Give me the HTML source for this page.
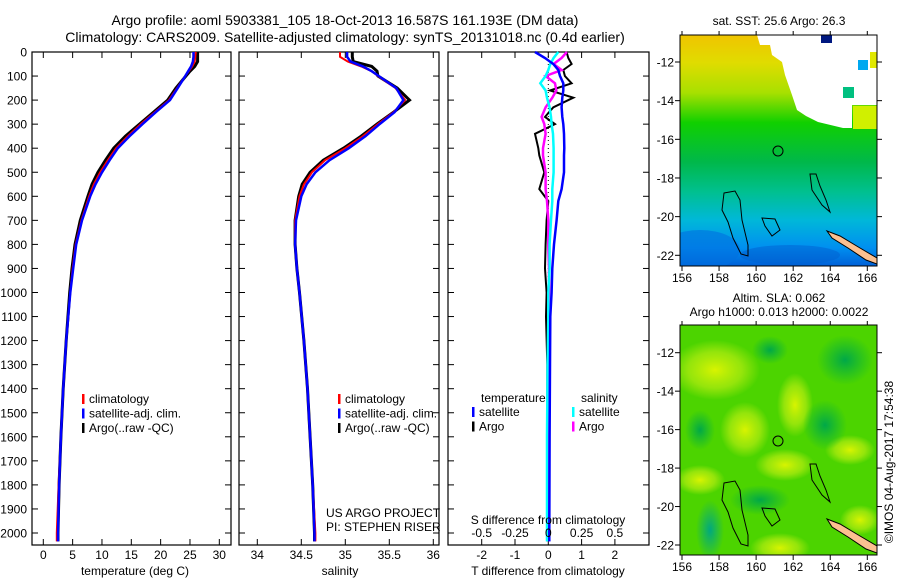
<!DOCTYPE html>
<html><head><meta charset="utf-8">
<style>
html,body{margin:0;padding:0;background:#fff;}
svg{display:block;font-family:"Liberation Sans",sans-serif;}
text{fill:#000;}
</style></head>
<body>
<svg id="fig" width="900" height="580" viewBox="0 0 900 580" xmlns="http://www.w3.org/2000/svg">
<defs>
  <linearGradient id="sstGrad" x1="0" y1="0" x2="0" y2="1">
    <stop offset="0" stop-color="#f0c400"/>
    <stop offset="0.12" stop-color="#e0dc00"/>
    <stop offset="0.25" stop-color="#a8e000"/>
    <stop offset="0.38" stop-color="#10d000"/>
    <stop offset="0.55" stop-color="#00b84a"/>
    <stop offset="0.68" stop-color="#00c090"/>
    <stop offset="0.80" stop-color="#00b8d8"/>
    <stop offset="0.92" stop-color="#0090f0"/>
    <stop offset="1" stop-color="#0060d8"/>
  </linearGradient>
  <radialGradient id="yb"><stop offset="0" stop-color="#d8f400"/><stop offset="0.6" stop-color="#b4ec10" stop-opacity="0.7"/><stop offset="1" stop-color="#b4ec10" stop-opacity="0"/></radialGradient>
  <radialGradient id="gb"><stop offset="0" stop-color="#00a848"/><stop offset="1" stop-color="#00b040" stop-opacity="0"/></radialGradient>
  <radialGradient id="tb"><stop offset="0" stop-color="#00a880"/><stop offset="1" stop-color="#00a880" stop-opacity="0"/></radialGradient>
  <clipPath id="clip1"><rect x="680" y="35" width="197" height="231"/></clipPath>
  <clipPath id="clip2"><rect x="680" y="325" width="197" height="230"/></clipPath>
</defs>

<text x="345" y="25" font-size="14" text-anchor="middle">Argo profile: aoml 5903381_105 18-Oct-2013 16.587S 161.193E (DM data)</text>
<text x="345" y="42" font-size="14" text-anchor="middle">Climatology: CARS2009. Satellite-adjusted climatology: synTS_20131018.nc (0.4d earlier)</text>

<g id="p1"></g>
<g id="p2"></g>
<g id="p3"></g>

<!-- SST map -->
<g>
  <text x="779" y="25" font-size="12" text-anchor="middle">sat. SST: 25.6 Argo: 26.3</text>
  <g clip-path="url(#clip1)">
    <rect x="680" y="35" width="197" height="231" fill="url(#sstGrad)"/>
    <ellipse cx="700" cy="250" rx="40" ry="20" fill="#0070e0" opacity="0.6"/>
    <ellipse cx="790" cy="255" rx="50" ry="10" fill="#0060d0" opacity="0.5"/>
    <polygon points="757,35 877,35 877,105 852,105 852,128 843,128 818,122 806,116 797,110 792,95 785,75 782,62 772,55 770,45 760,45" fill="#fff"/>
    <rect x="853" y="106" width="24" height="23" fill="#d0f000"/>
    <rect x="870" y="52" width="7" height="16" fill="#e0e800"/>
    <rect x="821" y="35" width="11" height="8" fill="#001880"/>
    <rect x="858" y="60" width="10" height="10" fill="#00a8f0"/>
    <rect x="843" y="87" width="11" height="11" fill="#00c080"/>
    <path d="M827,231 L840,236 L860,248 L877,258 L877,264 L866,260 L848,248 L832,238 Z" fill="#fcc090" stroke="#000" stroke-width="1"/>
    <path d="M724,193 L735,191 L740,200 L742,220 L748,245 L748,256 L741,254 L733,238 L728,222 L722,210 Z" fill="none" stroke="#000"/>
    <path d="M810,174 L816,174 L820,186 L826,200 L830,212 L822,205 L812,190 Z" fill="none" stroke="#000"/>
    <path d="M762,218 L775,219 L780,230 L772,236 L765,226 Z" fill="none" stroke="#000"/>
    <circle cx="778" cy="151" r="5" fill="none" stroke="#000"/>
  </g>
  <rect x="680" y="35" width="197" height="231" fill="none" stroke="#000"/>
  <g id="m1ticks"></g>
</g>

<!-- SLA map -->
<g>
  <text x="779" y="302" font-size="12" text-anchor="middle">Altim. SLA: 0.062</text>
  <text x="779" y="316" font-size="12" text-anchor="middle">Argo h1000: 0.013 h2000: 0.0022</text>
  <g clip-path="url(#clip2)">
    <rect x="680" y="325" width="197" height="230" fill="#4cd400"/>
    <ellipse cx="715" cy="370" rx="45" ry="30" fill="url(#yb)"/>
    <ellipse cx="745" cy="430" rx="25" ry="28" fill="url(#yb)"/>
    <ellipse cx="795" cy="405" rx="18" ry="32" fill="url(#yb)"/>
    <ellipse cx="785" cy="465" rx="30" ry="16" fill="url(#yb)"/>
    <ellipse cx="780" cy="548" rx="30" ry="15" fill="url(#yb)"/>
    <ellipse cx="700" cy="480" rx="25" ry="15" fill="url(#yb)"/>
    <ellipse cx="850" cy="450" rx="25" ry="15" fill="url(#yb)"/>
    <ellipse cx="860" cy="520" rx="20" ry="15" fill="url(#yb)"/>
    <ellipse cx="825" cy="425" rx="22" ry="25" fill="url(#gb)"/>
    <ellipse cx="845" cy="360" rx="28" ry="25" fill="url(#gb)"/>
    <ellipse cx="770" cy="350" rx="18" ry="14" fill="url(#gb)"/>
    <ellipse cx="710" cy="530" rx="14" ry="30" fill="url(#tb)"/>
    <ellipse cx="760" cy="500" rx="30" ry="15" fill="url(#gb)"/>
    <ellipse cx="700" cy="430" rx="15" ry="20" fill="url(#gb)"/>
    <path d="M827,519 L840,524 L860,536 L877,546 L877,553 L866,549 L848,537 L832,527 Z" fill="#fcc090" stroke="#000" stroke-width="1"/>
    <path d="M724,483 L735,481 L740,490 L742,510 L748,535 L748,546 L741,544 L733,528 L728,512 L722,500 Z" fill="none" stroke="#000"/>
    <path d="M810,464 L816,464 L820,476 L826,490 L830,502 L822,495 L812,480 Z" fill="none" stroke="#000"/>
    <path d="M762,508 L775,509 L780,520 L772,526 L765,516 Z" fill="none" stroke="#000"/>
    <circle cx="778" cy="441" r="5" fill="none" stroke="#000"/>
  </g>
  <rect x="680" y="325" width="197" height="230" fill="none" stroke="#000"/>
  <g id="m2ticks"></g>
</g>

<text transform="translate(893,462) rotate(-90)" font-size="12" text-anchor="middle">©IMOS 04-Aug-2017 17:54:38</text>

<script>
// ---- data ----
const depths = [0,20,40,60,80,100,150,200,250,300,350,400,450,500,550,600,700,800,900,1000,1200,1400,1600,1800,2000,2035];
const tempClim = [26.0,25.9,25.8,25.4,24.8,24.2,22.8,21.4,19.0,16.6,14.4,12.4,11.0,9.7,8.6,7.8,6.5,5.5,5.0,4.6,3.9,3.4,3.0,2.6,2.3,2.3];
const tempSat  = [25.6,25.6,25.5,25.2,24.7,24.2,22.9,21.6,19.2,16.9,14.7,12.7,11.3,10.0,8.9,8.0,6.6,5.6,5.1,4.6,3.9,3.4,3.0,2.7,2.5,2.5];
const tempArgo = [26.3,26.3,26.3,25.8,25.0,24.3,22.6,21.2,18.8,16.4,14.0,12.0,10.6,9.3,8.3,7.6,6.3,5.4,4.9,4.5,3.9,3.4,3.0,2.7,2.5,2.5];
const salClim  = [34.94,34.94,35.03,35.18,35.30,35.37,35.57,35.68,35.55,35.37,35.20,35.00,34.77,34.62,34.53,34.48,34.43,34.43,34.45,34.48,34.53,34.57,34.60,34.63,34.66,34.66];
const salSat   = [35.02,35.02,35.06,35.20,35.30,35.38,35.58,35.66,35.56,35.39,35.23,35.04,34.82,34.66,34.56,34.50,34.44,34.43,34.45,34.48,34.53,34.57,34.60,34.63,34.65,34.65];
const salArgo  = [35.08,35.08,35.09,35.30,35.36,35.37,35.59,35.73,35.55,35.36,35.18,34.98,34.75,34.60,34.51,34.47,34.43,34.43,34.45,34.48,34.53,34.57,34.60,34.63,34.65,34.65];
const diffDepths = [0,25,50,75,100,130,160,190,230,270,300,340,400,430,500,570,620,700,800,900,1000,1100,1300,1600,2000,2035];
const dTsat  = [-0.4,-0.1,0.15,0.3,0.35,0.45,0.45,0.42,0.4,0.42,0.45,0.47,0.48,0.47,0.47,0.4,0.3,0.25,0.17,0.12,0.1,0.06,0.05,0.04,0.03,0.03];
const dTargo = [0.55,0.6,0.7,0.45,0.5,0.7,0.05,0.75,0.15,-0.1,0.2,-0.4,-0.3,-0.27,-0.12,-0.27,0.0,-0.05,-0.08,-0.1,-0.05,-0.07,-0.03,-0.03,-0.03,-0.03];
const dSsat  = [0.075,0.04,0.015,0.0,-0.02,-0.06,-0.02,-0.01,0.01,0.02,0.025,0.035,0.04,0.04,0.04,0.03,0.03,0.02,0.01,0.01,0.0,0.0,-0.005,-0.01,-0.01,-0.01];
const dSargo = [0.14,0.1,0.04,0.1,-0.02,0.05,0.06,0.03,-0.02,-0.05,-0.03,-0.02,-0.04,-0.04,-0.02,-0.02,-0.01,0.0,0.0,0.005,0.005,0.005,0.005,0.005,0.005,0.005];
const depthTicks = [0,100,200,300,400,500,600,700,800,900,1000,1100,1200,1300,1400,1500,1600,1700,1800,1900,2000];
const tempTicks = [0,5,10,15,20,25,30];
const salTicks = [34,34.5,35,35.5,36];
const dTTicks = [-2,-1,0,1,2];
const dSTickLabels = ["-0.5","-0.25","0","0.25","0.5"];
const lonTicks = [156,158,160,162,164,166];
const latTicks = [-12,-14,-16,-18,-20,-22];

// ---- scales ----
const TOP=52, BOT=545;
const yD = d => TOP + d*0.2405;
const xT = t => 43.3 + t*5.867;
const xS = s => 257.3 + (s-34)*88;
const xDT = v => 548.3 + v*33.3;
const xDS = v => 548.3 + v*133.2;
const NS='http://www.w3.org/2000/svg';
function mk(parent, tag, attrs){const e=document.createElementNS(NS,tag);for(const k in attrs)e.setAttribute(k,attrs[k]);parent.appendChild(e);return e;}
function txt(parent,x,y,s,anchor,size){const e=mk(parent,'text',{x:x,y:y,'font-size':size||12,'text-anchor':anchor||'middle'});e.textContent=s;return e;}
function line(parent, xs, ds, xf, color, w){
  const pts = xs.map((v,i)=>xf(v).toFixed(1)+','+yD(ds[i]).toFixed(1)).join(' ');
  return mk(parent,'polyline',{points:pts,fill:'none',stroke:color,'stroke-width':w,'stroke-linejoin':'miter'});
}
function frame(g,x0,x1,xticks,xf,labels,depthLabels){
  const r=mk(g,'rect',{x:x0,y:TOP,width:x1-x0,height:BOT-TOP,fill:'none',stroke:'#000','stroke-width':1.2});
  
  
  depthTicks.forEach(d=>{
    mk(g,'line',{x1:x0,x2:x0+6,y1:yD(d),y2:yD(d),stroke:'#000'});
    mk(g,'line',{x1:x1-6,x2:x1,y1:yD(d),y2:yD(d),stroke:'#000'});
    if(depthLabels){const t=txt(g,27,yD(d)+4.5,String(d),'end',12);}
  });
  xticks.forEach((v,i)=>{
    mk(g,'line',{x1:xf(v),x2:xf(v),y1:BOT,y2:BOT-6,stroke:'#000'});
    mk(g,'line',{x1:xf(v),x2:xf(v),y1:TOP,y2:TOP+6,stroke:'#000'});
    const t=txt(g,xf(v),559,labels[i],'middle',12);
    
    
  });
}
function legend(g,x,y,items){
  items.forEach((it,i)=>{
    mk(g,'rect',{x:x,y:y+i*14.5-9,width:2.5,height:10,fill:it[0]});
    const t=txt(g,x+7,y+i*14.5,it[1],'start',12);
    
    
  });
}

// panel 1 temperature
const p1=document.getElementById('p1');
frame(p1,32,231,tempTicks,xT,tempTicks.map(String),true);
line(p1,tempArgo,depths,xT,'#000',3);
line(p1,tempClim,depths,xT,'#f00',2);
line(p1,tempSat,depths,xT,'#00f',2.5);
const xl1=txt(p1,135,575,'temperature (deg C)','middle',12);


legend(p1,82,403,[['#f00','climatology'],['#00f','satellite-adj. clim.'],['#000','Argo(..raw -QC)']]);

// panel 2 salinity
const p2=document.getElementById('p2');
frame(p2,239,439,salTicks,xS,['34','34.5','35','35.5','36'],false);
line(p2,salArgo,depths,xS,'#000',3);
line(p2,salClim,depths,xS,'#f00',2);
line(p2,salSat,depths,xS,'#00f',2.5);
const xl2=txt(p2,340,575,'salinity','middle',12);


legend(p2,338,403,[['#f00','climatology'],['#00f','satellite-adj. clim.'],['#000','Argo(..raw -QC)']]);
txt(p2,326,517,'US ARGO PROJECT','start',12);
txt(p2,326,531,'PI: STEPHEN RISER','start',12);

// panel 3 differences
const p3=document.getElementById('p3');
frame(p3,448,649,dTTicks,xDT,dTTicks.map(String),false);
mk(p3,'line',{x1:548.3,x2:548.3,y1:TOP,y2:yD(1100),stroke:'#000','stroke-dasharray':'1,3'});
line(p3,dTargo,diffDepths,xDT,'#000',2);
line(p3,dSargo,diffDepths,xDS,'#f0f',2.5);
line(p3,dSsat,diffDepths,xDS,'#0ff',2.5);
line(p3,dTsat,diffDepths,xDT,'#00f',2.5);
dSTickLabels.forEach((s,i)=>{const t=txt(p3,xDT(dTTicks[i]),537,s,'middle',12);});
txt(p3,548,524,'S difference from climatology','middle',12);
const xl3=txt(p3,548,575,'T difference from climatology','middle',12);


txt(p3,481,402,'temperature','start',12);
txt(p3,581,402,'salinity','start',12);
legend(p3,472,416,[['#00f','satellite'],['#000','Argo']]);
legend(p3,572,416,[['#0ff','satellite'],['#f0f','Argo']]);

// map ticks
function mapTicks(id,top,bot,lat12,lat22,lonY){
  const g=document.getElementById(id);
  const xL = lon => 682 + (lon-156)*18.53;
  const yL = lat => lat12 + (-lat-12)*(lat22-lat12)/10;
  lonTicks.forEach(l=>{
    mk(g,'line',{x1:xL(l),x2:xL(l),y1:bot,y2:bot+5,stroke:'#000'});
    mk(g,'line',{x1:xL(l),x2:xL(l),y1:top,y2:top-4,stroke:'#000'});
    const t=txt(g,xL(l),lonY,String(l),'middle',12);
    
    
  });
  latTicks.forEach(l=>{
    mk(g,'line',{x1:675,x2:680,y1:yL(l),y2:yL(l),stroke:'#000'});
    mk(g,'line',{x1:877,x2:882,y1:yL(l),y2:yL(l),stroke:'#000'});
    const t=txt(g,674,yL(l)+4.5,String(l),'end',12);
    
    
  });
}
mapTicks('m1ticks',35,266,62,255.3,282);
mapTicks('m2ticks',325,555,352.7,545,571);
</script>
</svg>
</body></html>
